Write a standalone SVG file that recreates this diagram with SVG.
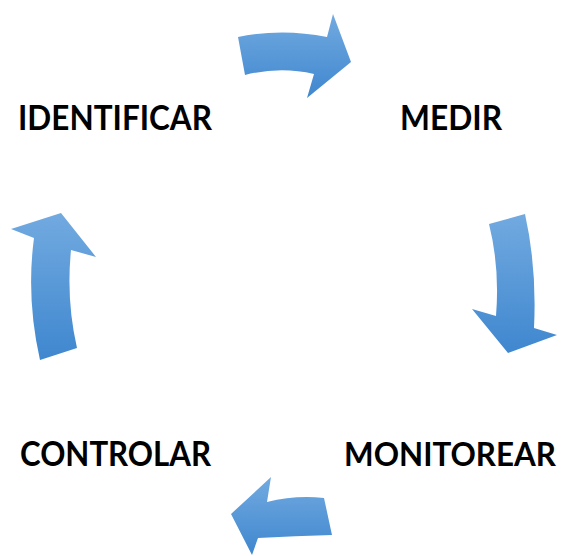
<svg xmlns="http://www.w3.org/2000/svg" width="563" height="556" viewBox="0 0 563 556">
  <defs>
    <linearGradient id="arrowFill" x1="0" y1="0" x2="0" y2="1">
      <stop offset="0" stop-color="#72aae0"/>
      <stop offset="1" stop-color="#3f87cf"/>
    </linearGradient>
    <style>
      .label { font-family: "Lato", "Open Sans", "Liberation Sans", sans-serif; font-weight: 700; font-size: 34px; fill: #000; }
      .label.wide { font-size: 32.5px; }
      .arrow { fill: url(#arrowFill); stroke: none; }
    </style>
  </defs>

  <rect width="563" height="556" fill="#fff"/>

  <!-- cycle steps -->
  <g id="identificar">
    <text class="label" x="18" y="130" textLength="194" lengthAdjust="spacingAndGlyphs">IDENTIFICAR</text>
  </g>
  <g id="medir">
    <text class="label" x="400" y="130" textLength="102" lengthAdjust="spacingAndGlyphs">MEDIR</text>
  </g>
  <g id="monitorear">
    <text class="label wide" x="344" y="466" textLength="212" lengthAdjust="spacingAndGlyphs">MONITOREAR</text>
  </g>
  <g id="controlar">
    <text class="label" x="20" y="466" textLength="191" lengthAdjust="spacingAndGlyphs">CONTROLAR</text>
  </g>

  <!-- curved block arrows between steps -->
  <g id="connectors">
    <!-- top: identificar to medir -->
    <path class="arrow" d="M238,37 Q282,28 327,37 L333,14 L351,62 L307,98 L314,74 Q280,66 245,75 Z"/>
    <!-- right: medir to monitorear -->
    <path class="arrow" d="M525,214 Q537,268 534,328 L557,335 L508,353 L472,309 L496,316 Q500,268 489,224 Z"/>
    <!-- bottom: monitorear to controlar -->
    <path class="arrow" d="M324,498 Q295,495 267,502 L271,477 L231,514 L252,555 L258,538 Q295,536 332,535 Z"/>
    <!-- left: controlar to identificar -->
    <path class="arrow" d="M40,360 Q26,298 34,238 L11,229 L61,213 L96,257 L71,250 Q66,300 77,348 Z"/>
  </g>
</svg>
